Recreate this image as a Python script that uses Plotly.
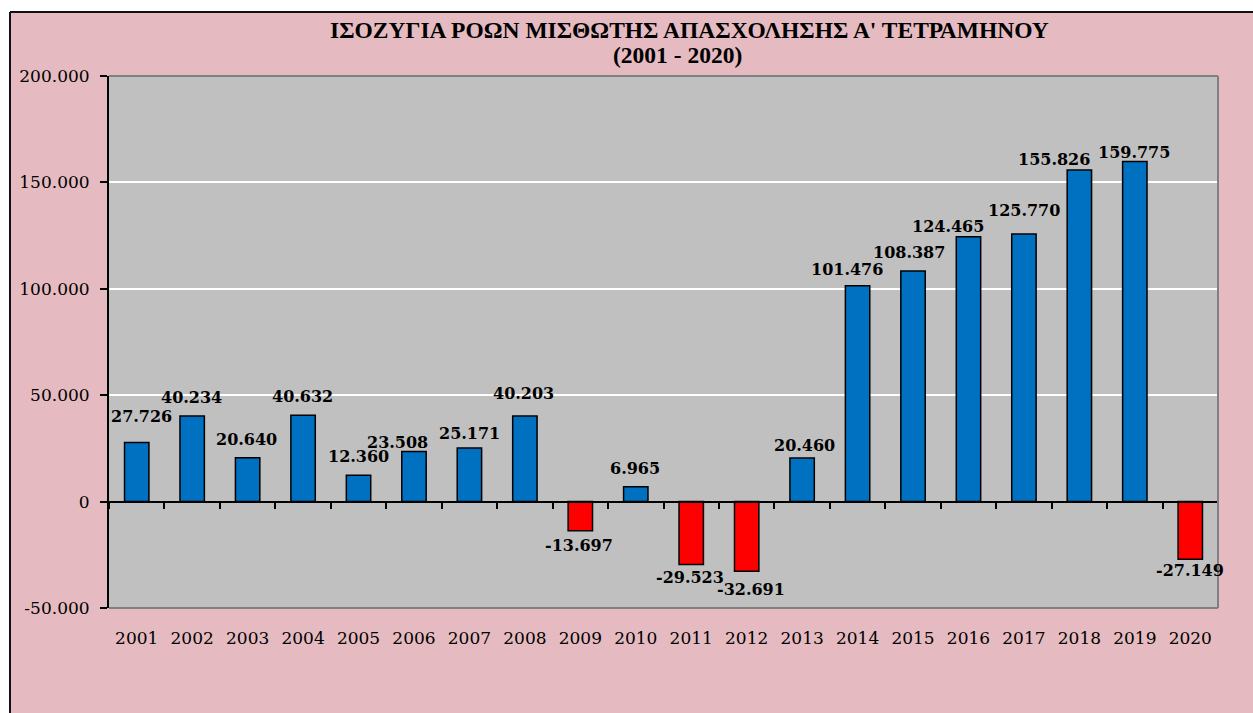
import plotly.graph_objects as go

# ---- data ----
YEARS = [str(y) for y in range(2001, 2021)]
VALUES = [27726, 40234, 20640, 40632, 12360, 23508, 25171, 40203, -13697, 6965,
          -29523, -32691, 20460, 101476, 108387, 124465, 125770, 155826, 159775, -27149]
LABELS = ["27.726", "40.234", "20.640", "40.632", "12.360", "23.508", "25.171", "40.203",
          "-13.697", "6.965", "-29.523", "-32.691", "20.460", "101.476", "108.387",
          "124.465", "125.770", "155.826", "159.775", "-27.149"]
Y_TICKVALS = [-50000, 0, 50000, 100000, 150000, 200000]
Y_TICKTEXT = ["-50.000", "0", "50.000", "100.000", "150.000", "200.000"]
TITLE_LINE1 = "ΙΣΟΖΥΓΙΑ ΡΟΩΝ ΜΙΣΘΩΤΗΣ ΑΠΑΣΧΟΛΗΣΗΣ Α' ΤΕΤΡΑΜΗΝΟΥ"
TITLE_LINE2 = "(2001 - 2020)"

# ---- style: label offsets (px) from bar end, as placed in the original ----
LABEL_DX = [5, -1, -1.5, -1, 0, -16.5, 0, -1.5, -1.5, -1, -1.5, 4, 2, -11, -4, -20, 0, -25, -1, 0]
LABEL_DY = [26, 18.7, 18, 18.7, 18.7, 9.2, 15, 22.7, 14.3, 18, 12.6, 18.3, 12.3, 15.7, 18.7,
            10.7, 23, 10.7, 9.3, 11]

BLUE = "#0070C0"
RED = "#FF0000"
PINK = "#E5BBC1"
PLOT_BG = "#C0C0C0"

W, H = 1253, 713
ML, MR, MT, MB = 109, 35, 76, 105
PW, PH = W - ML - MR, H - MT - MB


def px_x(x):
    return (x - ML) / PW


def px_y(y):
    return (H - MB - y) / PH


colors = [BLUE if v >= 0 else RED for v in VALUES]

fig = go.Figure()
fig.add_trace(go.Bar(
    x=YEARS, y=VALUES,
    marker=dict(color=colors, line=dict(color="black", width=1.5)),
    hoverinfo="x+y", showlegend=False,
))
# helper trace so that the zero-line axis carries the same categories
fig.add_trace(go.Scatter(
    x=YEARS, y=VALUES, xaxis="x2", mode="markers",
    marker=dict(opacity=0, size=1), hoverinfo="skip", showlegend=False,
))

annotations = []
for i, (v, lab, dx, dy) in enumerate(zip(VALUES, LABELS, LABEL_DX, LABEL_DY)):
    annotations.append(dict(
        x=i, y=v, xref="x", yref="y", text=lab, showarrow=False,
        xanchor="center", yanchor="middle",
        xshift=dx, yshift=dy if v >= 0 else -dy,
        font=dict(family="DejaVu Serif", size=16, color="black", weight="bold"),
    ))

title_font = dict(family="Liberation Serif", size=23.5, color="black", weight="bold")
annotations.append(dict(
    x=px_x(689), y=px_y(30), xref="paper", yref="paper", text=TITLE_LINE1,
    showarrow=False, xanchor="center", yanchor="middle", font=title_font,
))
annotations.append(dict(
    x=px_x(677), y=px_y(55), xref="paper", yref="paper", text=TITLE_LINE2,
    showarrow=False, xanchor="center", yanchor="middle", font=title_font,
))

shapes = [
    # white strips outside the chart frame
    dict(type="rect", xref="paper", yref="paper", x0=-0.3, x1=1.2, y0=px_y(12), y1=1.3,
         fillcolor="white", line=dict(width=0), layer="above"),
    dict(type="rect", xref="paper", yref="paper", x0=-0.3, x1=px_x(10), y0=-0.4, y1=1.3,
         fillcolor="white", line=dict(width=0), layer="above"),
    # frame lines
    dict(type="line", xref="paper", yref="paper", x0=px_x(10), x1=1.2, y0=px_y(12), y1=px_y(12),
         line=dict(color="#111111", width=2), layer="above"),
    dict(type="line", xref="paper", yref="paper", x0=px_x(10), x1=px_x(10), y0=px_y(12), y1=-0.4,
         line=dict(color="#111111", width=2), layer="above"),
    # plot area border (top, right, bottom)
    dict(type="line", xref="paper", yref="paper", x0=0, x1=1, y0=1, y1=1,
         line=dict(color="#808080", width=2), layer="above"),
    dict(type="line", xref="paper", yref="paper", x0=1, x1=1, y0=0, y1=1,
         line=dict(color="#808080", width=2), layer="above"),
    dict(type="line", xref="paper", yref="paper", x0=0, x1=1, y0=0, y1=0,
         line=dict(color="#808080", width=2), layer="above"),
]

tick_font = dict(family="DejaVu Serif", size=17, color="black")

fig.update_layout(
    width=W, height=H,
    margin=dict(l=ML, r=MR, t=MT, b=MB, pad=0, autoexpand=False),
    paper_bgcolor=PINK,
    plot_bgcolor=PLOT_BG,
    bargap=0.56,
    showlegend=False,
    annotations=annotations,
    shapes=shapes,
    xaxis=dict(
        type="category", range=[-0.5, 19.5], showline=False, ticks="",
        showgrid=False, zeroline=False, tickfont=tick_font,
        ticklabelstandoff=18, automargin=False, fixedrange=True,
    ),
    xaxis2=dict(
        type="category", range=[-0.5, 19.5], overlaying="x", anchor="free", position=0.2,
        side="bottom", showline=True, linecolor="black", linewidth=2,
        ticks="outside", tickson="boundaries", ticklen=6, tickwidth=2, tickcolor="black",
        showticklabels=False, showgrid=False, zeroline=False, automargin=False,
        fixedrange=True,
    ),
    yaxis=dict(
        range=[-50000, 200000], tickvals=Y_TICKVALS, ticktext=Y_TICKTEXT,
        showgrid=True, gridcolor="white", gridwidth=1.5,
        zeroline=False, showline=True, linecolor="black", linewidth=2,
        ticks="outside", ticklen=7, tickwidth=2, tickcolor="black",
        tickfont=tick_font, ticklabelstandoff=7, automargin=False, fixedrange=True,
    ),
)

fig.write_html("out.html", config={"displayModeBar": False},
               post_script="document.body.style.margin='0';")
